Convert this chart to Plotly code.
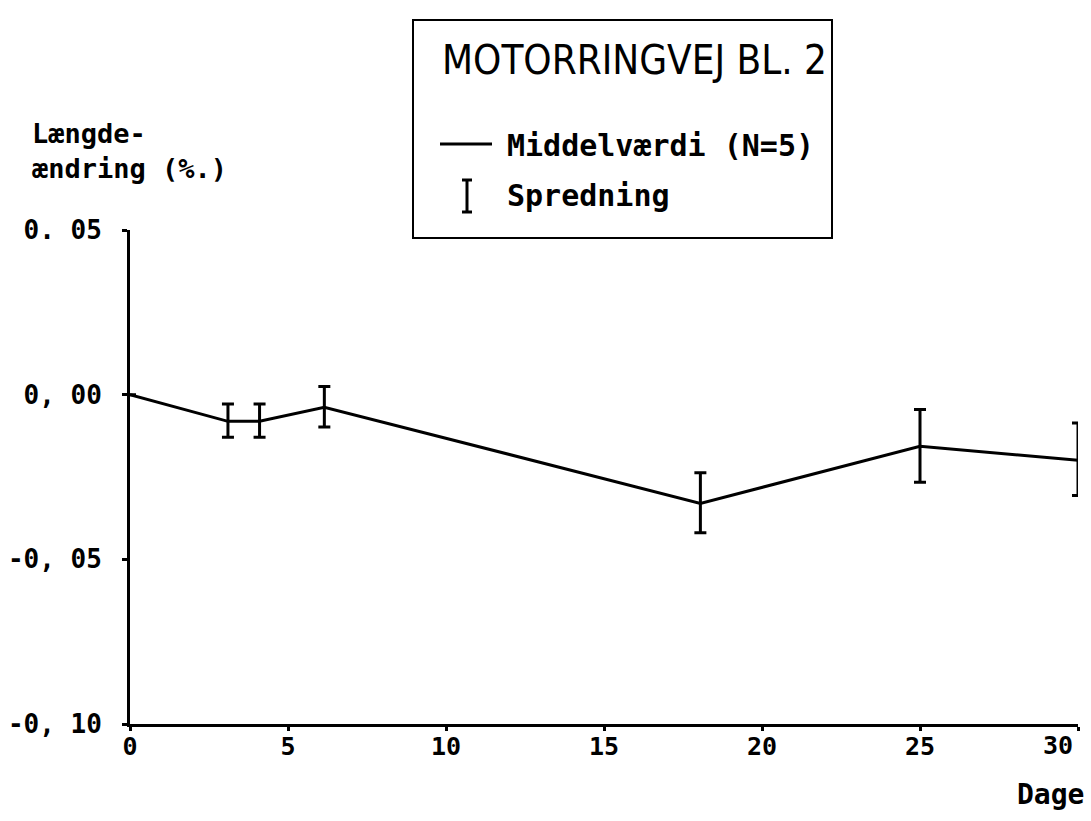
import plotly.graph_objects as go

# ---- data ----
days = [0, 3.1, 4.1, 6.15, 18.05, 25.0, 30.0]
mean_change = [0.0, -0.0081, -0.0081, -0.0038, -0.0330, -0.0157, -0.0199]
err_plus = [0.0, 0.0053, 0.0053, 0.0063, 0.0093, 0.0112, 0.0113]
err_minus = [0.0, 0.0048, 0.0048, 0.0060, 0.0089, 0.0109, 0.0107]

x_ticks = [0, 5, 10, 15, 20, 25, 30]
x_ticklabels = ["0", "5", "10", "15", "20", "25", "30"]
y_ticks = [0.05, 0.0, -0.05, -0.10]
y_ticklabels = ["0. 05", "0, 00", "-0, 05", "-0, 10"]

title_text = "MOTORRINGVEJ BL. 2"
legend_mean = "Middelværdi (N=5)"
legend_spread = "Spredning"
y_title_lines = ["Længde-", "ændring (%.)"]
x_title = "Dage"

W, H = 1091, 821
ML, MR, MT, MB = 130, 13, 230, 97
PW, PH = W - ML - MR, H - MT - MB


def px(x):
    return (x - ML) / PW


def py(y):
    return (H - MB - y) / PH


MONO = "DejaVu Sans Mono"
TITLEF = "DejaVu Sans Condensed"
XTICKFONT = dict(family=MONO, size=25, color="black", weight="bold")

fig = go.Figure()
fig.add_trace(go.Scatter(
    x=days, y=mean_change, mode="lines",
    line=dict(color="black", width=3),
    error_y=dict(type="data", symmetric=False, array=err_plus,
                 arrayminus=err_minus, color="black", thickness=3, width=6),
    cliponaxis=False, showlegend=False, hoverinfo="x+y",
))

fig.update_layout(
    width=W, height=H, autosize=False,
    margin=dict(l=ML, r=MR, t=MT, b=MB, autoexpand=False),
    paper_bgcolor="white", plot_bgcolor="white",
    showlegend=False,
    font=dict(family=MONO, color="black"),
)
# the last tick label sits left of its tick in the reference, so it is an
# annotation anchored at the axis value instead of an axis tick label
fig.update_xaxes(
    range=[0, 30], tickvals=x_ticks,
    ticktext=x_ticklabels[:-1] + [""],
    showgrid=False, zeroline=False, showline=True, linecolor="black",
    linewidth=3, ticks="outside", ticklen=4, tickwidth=3, tickcolor="black",
    ticklabeloverflow="allow", ticklabelstandoff=-6, automargin=False,
    tickfont=XTICKFONT,
)
fig.add_annotation(xref="x", yref="paper", x=x_ticks[-1], y=py(745),
                   xanchor="right", yanchor="middle", xshift=-3, showarrow=False,
                   text=x_ticklabels[-1], font=XTICKFONT)
fig.update_yaxes(
    range=[-0.10, 0.05], tickvals=y_ticks, ticktext=y_ticklabels,
    showgrid=False, zeroline=False, showline=True, linecolor="black",
    linewidth=3, ticks="outside", ticklen=5, tickwidth=3, tickcolor="black",
    ticklabelstandoff=15, automargin=False,
    tickfont=dict(family=MONO, size=26, color="black", weight="bold"),
)

# title / legend box
fig.add_shape(type="rect", xref="paper", yref="paper",
              x0=px(413), x1=px(832), y0=py(238), y1=py(20),
              line=dict(color="black", width=2), fillcolor="white")
fig.add_annotation(xref="paper", yref="paper", x=px(440), y=py(60),
                   xanchor="left", yanchor="middle", showarrow=False,
                   text=title_text, font=dict(family=TITLEF, size=40, color="black"))
# legend line sample
fig.add_shape(type="line", xref="paper", yref="paper",
              x0=px(440), x1=px(492), y0=py(144), y1=py(144),
              line=dict(color="black", width=3))
fig.add_annotation(xref="paper", yref="paper", x=px(505), y=py(146),
                   xanchor="left", yanchor="middle", showarrow=False,
                   text="<b>" + legend_mean + "</b>",
                   font=dict(family=MONO, size=30, color="black"))
# legend error bar sample
fig.add_shape(type="line", xref="paper", yref="paper",
              x0=px(467), x1=px(467), y0=py(212), y1=py(180),
              line=dict(color="black", width=3))
for yy in (180, 212):
    fig.add_shape(type="line", xref="paper", yref="paper",
                  x0=px(462), x1=px(472), y0=py(yy), y1=py(yy),
                  line=dict(color="black", width=3))
fig.add_annotation(xref="paper", yref="paper", x=px(505), y=py(196),
                   xanchor="left", yanchor="middle", showarrow=False,
                   text="<b>" + legend_spread + "</b>",
                   font=dict(family=MONO, size=30, color="black"))

# axis titles
fig.add_annotation(xref="paper", yref="paper", x=px(30), y=py(151),
                   xanchor="left", yanchor="middle", showarrow=False, align="left",
                   text="<b>" + y_title_lines[0] + "</b><br><b>" + y_title_lines[1] + "</b>",
                   font=dict(family=MONO, size=27, color="black"))
fig.add_annotation(xref="paper", yref="paper", x=px(1086), y=py(794),
                   xanchor="right", yanchor="middle", showarrow=False,
                   text="<b>" + x_title + "</b>",
                   font=dict(family=MONO, size=28, color="black"))

fig.write_html("out.html")
